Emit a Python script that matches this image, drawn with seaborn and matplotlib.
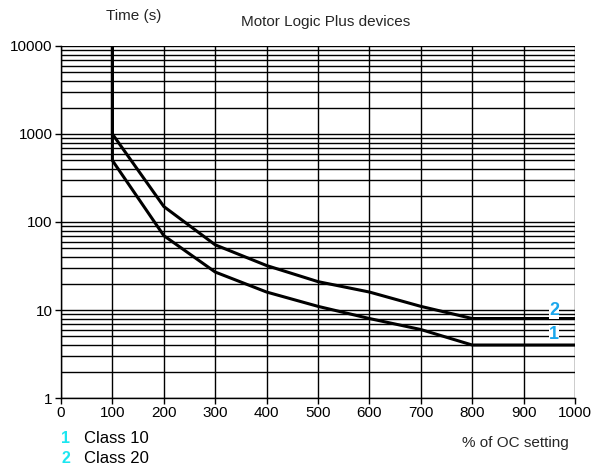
import matplotlib
matplotlib.use("Agg")
import matplotlib.pyplot as plt
import seaborn as sns
import pandas as pd
import numpy as np
from matplotlib.ticker import FixedLocator, NullFormatter

# Data
pct_oc = [100, 100, 200, 300, 400, 500, 600, 700, 800, 1000]
class10_time = [10000, 500, 70, 27, 16, 11, 8, 6, 4, 4]
class20_time = [10000, 1000, 150, 55, 32, 21, 16, 11, 8, 8]
series_names = ["Class 10", "Class 20"]
series_keys = ["1", "2"]
x_ticks = [0, 100, 200, 300, 400, 500, 600, 700, 800, 900, 1000]
y_ticks = [1, 10, 100, 1000, 10000]

df = pd.DataFrame({
    "pct": pct_oc + pct_oc,
    "time": class10_time + class20_time,
    "cls": [series_names[0]] * len(pct_oc) + [series_names[1]] * len(pct_oc),
})

sns.set_theme(style="white")
plt.rcParams['font.family'] = ['Liberation Sans', 'DejaVu Sans']

fig = plt.figure(figsize=(6.06, 4.69), dpi=100)
ax = fig.add_axes([61/606, 1 - 398/469, (575 - 61)/606, (398 - 46)/469])

ax.set_yscale("log")
ax.set_xlim(0, 1000)
ax.set_ylim(1, 10000)

# grid
minor = [m * 10**e for e in range(0, 4) for m in range(2, 10)]
for v in y_ticks + minor:
    ax.axhline(v, color="black", lw=1.0, zorder=1)
for v in x_ticks:
    ax.axvline(v, color="black", lw=1.0, zorder=1)

sns.lineplot(data=df, x="pct", y="time", hue="cls", units="cls", estimator=None,
             sort=False, palette=["black", "black"], lw=2.2, legend=False, ax=ax, zorder=3)

ax.set_xticks(x_ticks)
ax.set_xticklabels([str(t) for t in x_ticks])
ax.set_yticks(y_ticks)
ax.set_yticklabels([str(t) for t in y_ticks])
ax.yaxis.set_minor_locator(FixedLocator(minor))
ax.yaxis.set_minor_formatter(NullFormatter())
ax.tick_params(axis="y", which="minor", length=0)
ax.tick_params(axis="both", which="major", length=4, width=1, color="black",
               labelsize=11, labelcolor="black", pad=2, direction="out")
ax.tick_params(axis="x", bottom=True)
ax.tick_params(axis="y", left=True)
for s in ["left", "bottom"]:
    ax.spines[s].set_visible(True)
    ax.spines[s].set_color("black")
    ax.spines[s].set_linewidth(1)
for s in ["top", "right"]:
    ax.spines[s].set_visible(False)
ax.set_xlabel("")
ax.set_ylabel("")

# in-plot labels
blue = "#1AA7EC"
ax.text(959, 9.9, "2", color=blue, fontsize=13, fontweight="bold", ha="center", va="center",
        zorder=5, bbox=dict(facecolor="white", edgecolor="none", pad=0.2))
ax.text(959, 5.3, "1", color=blue, fontsize=13, fontweight="bold", ha="center", va="center",
        zorder=5, bbox=dict(facecolor="white", edgecolor="none", pad=0.2))

# texts
fig.text(134/606, 1 - 16/469, "Time (s)", ha="center", va="center", fontsize=11)
fig.text(326/606, 1 - 22/469, "Motor Logic Plus devices", ha="center", va="center", fontsize=11)
fig.text(515/606, 1 - 443/469, "% of OC setting", ha="center", va="center", fontsize=11)

cyan = "#1CE6F0"
for i, (k, name) in enumerate(zip(series_keys, series_names)):
    y = 1 - (438 + 20 * i) / 469
    fig.text(66/606, y, k, ha="center", va="center", fontsize=11.5, fontweight="bold", color=cyan)
    fig.text(84/606, y, name, ha="left", va="center", fontsize=12, color="black")

fig.savefig("out.png", dpi=100, facecolor="white")
